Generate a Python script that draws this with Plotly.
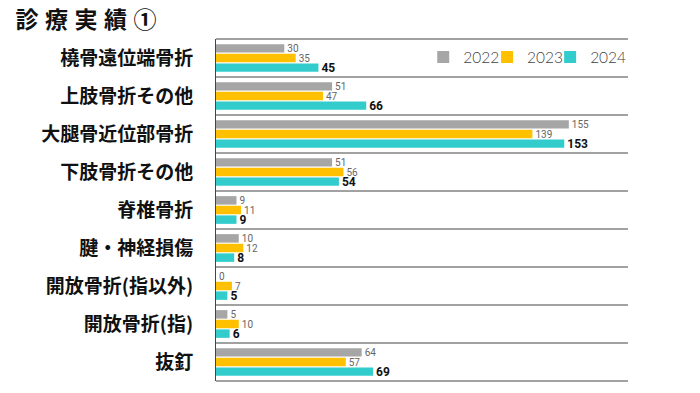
import plotly.graph_objects as go

categories = ["橈骨遠位端骨折", "上肢骨折その他", "大腿骨近位部骨折", "下肢骨折その他",
              "脊椎骨折", "腱・神経損傷", "開放骨折(指以外)", "開放骨折(指)", "抜釘"]
years = ["2022", "2023", "2024"]
v2022 = [30, 51, 155, 51, 9, 10, 0, 5, 64]
v2023 = [35, 47, 139, 56, 11, 12, 7, 10, 57]
v2024 = [45, 66, 153, 54, 9, 8, 5, 6, 69]
colors = ["#a6a6a6", "#ffc000", "#33cccc"]

narrow = "Roboto, sans-serif"
jp = "Noto Sans CJK JP, sans-serif"
legend_ids = ["legend", "legend2", "legend3"]
legend_x = [0.503, 0.658, 0.811]

fig = go.Figure()
for yr, vals, col, lid in zip(years, [v2022, v2023, v2024], colors, legend_ids):
    bold = yr == "2024"
    fig.add_trace(go.Bar(
        y=categories, x=vals, name=yr, orientation="h", legend=lid,
        marker=dict(color=col, line=dict(width=0)),
        text=[str(v) for v in vals], textposition="outside",
        textfont=dict(family=narrow, size=12 if bold else 10,
                      color="#111111" if bold else "#666666",
                      weight="bold" if bold else "normal"),
        cliponaxis=False, constraintext="none",
    ))

n = len(categories)
shapes = []
for k in range(n - 1):
    shapes.append(dict(type="line", xref="paper", yref="y", x0=0, x1=1,
                       y0=k + 0.5, y1=k + 0.5, line=dict(color="#444444", width=1)))
shapes.append(dict(type="line", xref="paper", yref="paper", x0=0, x1=1, y0=1, y1=1,
                   line=dict(color="#444444", width=1)))
shapes.append(dict(type="line", xref="paper", yref="paper", x0=0, x1=1, y0=0, y1=0,
                   line=dict(color="#444444", width=1)))

leg_common = dict(orientation="h", xanchor="left", y=0.996, yanchor="top",
                  font=dict(family="Lato, sans-serif", size=15.5, color="#444444", weight=300),
                  itemwidth=30, bgcolor="rgba(0,0,0,0)")

fig.update_layout(
    width=700, height=393,
    margin=dict(l=216, r=72, t=39, b=12, autoexpand=False),
    paper_bgcolor="white", plot_bgcolor="white",
    barmode="group", bargap=0.24, bargroupgap=0.12,
    title=dict(text="<b>診療実績①</b>", x=0.022, xanchor="left", y=0.949, yanchor="middle",
               font=dict(family=jp, size=23, color="#111111")),
    showlegend=True,
    legend=dict(x=legend_x[0], **leg_common),
    legend2=dict(x=legend_x[1], **leg_common),
    legend3=dict(x=legend_x[2], **leg_common),
    xaxis=dict(range=[0, 181], showgrid=False, zeroline=False, showticklabels=False,
               showline=False, fixedrange=True, automargin=False),
    yaxis=dict(autorange="reversed", showgrid=False, zeroline=False,
               showline=True, linecolor="#444444", linewidth=1, automargin=False,
               ticks="", ticklabelstandoff=18,
               tickfont=dict(family=jp, size=19, color="#111111", weight="bold")),
    shapes=shapes,
)

post = (
    "document.body.style.margin='0px';"
    "var t=document.querySelectorAll('.gtitle');"
    "t.forEach(function(e){e.style.letterSpacing='6.5px';});"
)
fig.write_html("out.html", config={"displayModeBar": False}, post_script=post)
